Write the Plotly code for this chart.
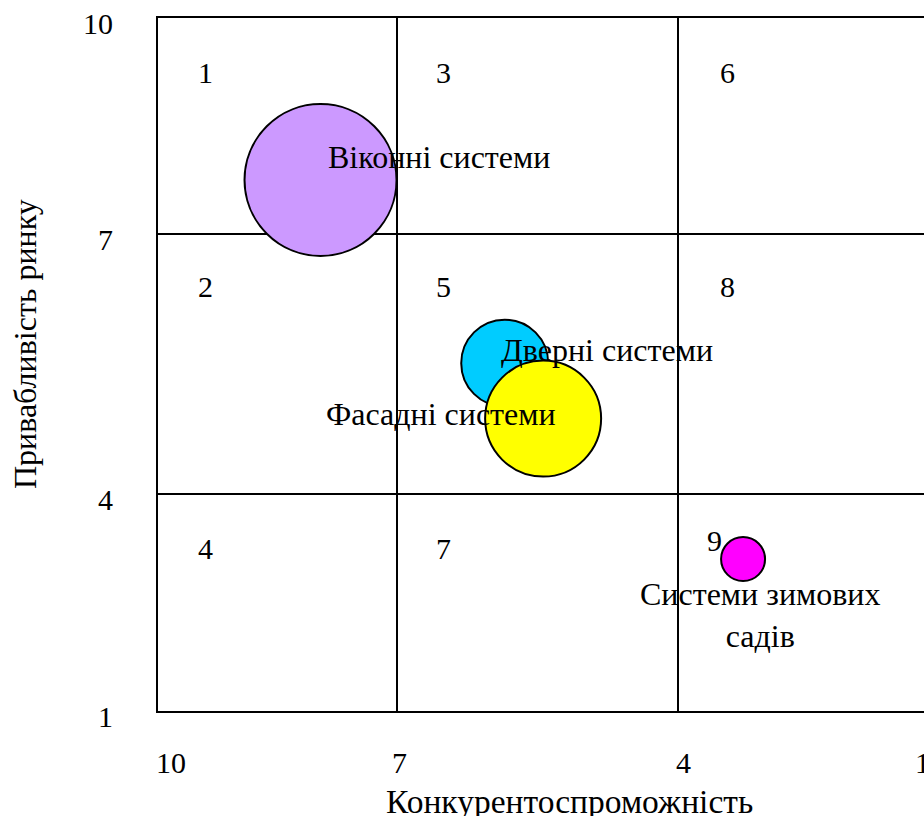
import numpy as np
import plotly.graph_objects as go

# ---- data ----
segments = ["Віконні системи", "Дверні системи", "Фасадні системи", "Системи зимових<br>садів"]
competitiveness = [7.96, 5.85, 5.44, 3.19]
attractiveness = [7.75, 5.51, 4.87, 3.10]
bubble_size = [152, 87, 116, 44]
colors = ["#CC99FF", "#00CCFF", "#FFFF00", "#FF00FF"]

tick_values = [10, 7, 4, 1]
tick_labels = ["10", "7", "4", "1"]

cell_numbers = ["1", "3", "6", "2", "5", "8", "4", "7", "9"]
cell_x = [9.4, 6.5, 3.39, 9.4, 6.5, 3.39, 9.4, 6.5, 3.55]
cell_y = [9.25, 9.25, 9.25, 6.39, 6.39, 6.39, 3.25, 3.25, 3.36]

# ---- axis warping (the original scale is not uniform between grid lines) ----
KN = [1, 4, 7, 10]
XPOS = [761, 520, 239, 0]
YPOS = [0, 217, 477, 693]


def xt(v):
    return np.interp(v, KN, XPOS)


def yt(v):
    return np.interp(v, KN, YPOS)


FONT = "Liberation Serif, Times New Roman, serif"
FS = 32
FS_NUM = 30

fig = go.Figure()
for i in range(len(segments)):
    fig.add_trace(go.Scatter(
        x=[xt(competitiveness[i])], y=[yt(attractiveness[i])],
        mode="markers",
        marker=dict(size=bubble_size[i], color=colors[i], opacity=1,
                    line=dict(color="black", width=2)),
        showlegend=False, hoverinfo="text", hovertext=segments[i],
    ))

label_shift = [(118, 23), (102, 13), (-102, 5), (17, -56)]
ann = []
for i in range(len(segments)):
    ann.append(dict(x=xt(competitiveness[i]), y=yt(attractiveness[i]), xref="x", yref="y",
                    text=segments[i], showarrow=False, xshift=label_shift[i][0],
                    yshift=label_shift[i][1], xanchor="center", yanchor="middle",
                    font=dict(family=FONT, size=FS, color="black")))

for t, cx, cy in zip(cell_numbers, cell_x, cell_y):
    ann.append(dict(x=xt(cx), y=yt(cy), xref="x", yref="y", text=t, showarrow=False,
                    xanchor="center", yanchor="middle",
                    font=dict(family=FONT, size=FS_NUM, color="black")))

xshift_ticks = [13, 2, 5, 3]
for v, lab, s in zip(tick_values, tick_labels, xshift_ticks):
    ann.append(dict(x=xt(v), y=-51 / 693, xref="x", yref="paper", text=lab, showarrow=False,
                    xshift=s, xanchor="center", yanchor="middle",
                    font=dict(family=FONT, size=FS_NUM, color="black")))
for v, lab in zip(tick_values, tick_labels):
    ann.append(dict(x=-43 / 766, y=yt(v), xref="paper", yref="y", text=lab, showarrow=False,
                    xanchor="right", yanchor="middle", yshift=-5,
                    font=dict(family=FONT, size=FS_NUM, color="black")))

ann.append(dict(x=(569 - 158) / 766, y=(711 - 801) / 693, xref="paper", yref="paper",
                text="Конкурентоспроможність", showarrow=False,
                xanchor="center", yanchor="middle",
                font=dict(family=FONT, size=33.5, color="black")))
ann.append(dict(x=(25 - 158) / 766, y=(711 - 344) / 693, xref="paper", yref="paper",
                text="Привабливість ринку", showarrow=False, textangle=-90,
                xanchor="center", yanchor="middle",
                font=dict(family=FONT, size=FS, color="black")))

fig.update_layout(
    width=924, height=816,
    margin=dict(l=158, r=0, t=18, b=105),
    paper_bgcolor="white", plot_bgcolor="white",
    annotations=ann,
    xaxis=dict(range=[0, 766], tickvals=[xt(7), xt(4)], showticklabels=False, ticks="",
               showgrid=True, gridcolor="black", gridwidth=2, zeroline=False,
               showline=True, linecolor="black", linewidth=2, mirror=True, fixedrange=True),
    yaxis=dict(range=[0, 693], tickvals=[yt(7), yt(4)], showticklabels=False, ticks="",
               showgrid=True, gridcolor="black", gridwidth=2, zeroline=False,
               showline=True, linecolor="black", linewidth=2, mirror=False, fixedrange=True),
)

fig.write_html("out.html")
